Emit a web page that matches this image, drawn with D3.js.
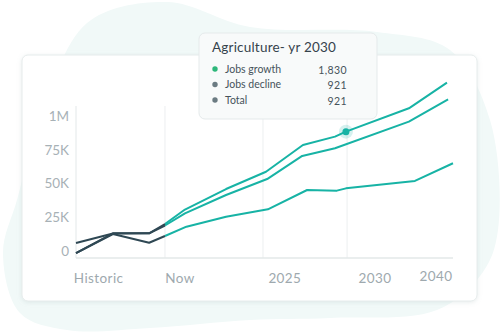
<!DOCTYPE html>
<html><head><meta charset="utf-8">
<script src="https://cdn.jsdelivr.net/npm/d3@7"></script>
<style>html,body{margin:0;padding:0;background:#fff;}svg{display:block;font-family:Lato,"Open Sans",sans-serif;}</style>
</head><body>
<svg id="c" width="500" height="335"></svg>
<script>
// ---- data ----
const seriesNames = ["Jobs growth", "Jobs decline", "Total"];
// [position along the timeline, value in thousands]
const growthPts = [[0,-1.5],[9.8,13.1],[19.4,13.1],[23.6,20],[28.9,30.7],[39.8,45.9],[50.4,58.7],[60.2,78.5],[68.7,84.7],[71.6,88.4],[88.3,105.7],[98.4,124.7]];
const declinePts = [[0,5.9],[9.8,13],[19.4,13.1],[23.6,18.9],[28.9,27.9],[39.8,41.5],[50.7,53.3],[60,70.4],[68.7,76.1],[88.3,95.8],[98.7,112.4]];
const totalPts = [[0,-1.5],[9.8,12.6],[19.4,6.1],[23.6,11.1],[29.3,18],[39.8,25.4],[50.9,30.9],[61.3,45.2],[69.2,44.7],[71.6,46.4],[89.9,51.9],[100,65]];
const nowX = 23.6;
const gridX = [23.6, 49.6, 71.9];
const xTickVals = [6, 27.6, 55.4, 79.3, 95.5];
const xTickLabels = ["Historic", "Now", "2025", "2030", "2040"];
const yTickVals = [0, 25, 50, 75, 100];
const yTickLabels = ["0", "25K", "50K", "75K", "1M"];
const tipTitle = "Agriculture- yr 2030";
const tipValues = ["1,830", "921", "921"];
const tipPoint = [71.6, 88.4];

// ---- layout ----
const svg = d3.select("#c");
const x = d3.scaleLinear().domain([0, 100]).range([76, 453]);
const y = d3.scaleLinear().domain([0, 100]).range([251, 116]);

const defs = svg.append("defs");
const f = defs.append("filter").attr("id","sh").attr("x","-10%").attr("y","-10%").attr("width","120%").attr("height","130%");
f.append("feDropShadow").attr("dx",0).attr("dy",1).attr("stdDeviation",2).attr("flood-color","#9fb3b3").attr("flood-opacity",0.25);

// background blob
const blobPts = [[40,120],[87,23],[167,2],[250,27],[377,32],[450,50],[490,120],[498,230],[483,272],[437,310],[330,318],[250,320],[150,328],[67,330],[20,313],[3,253],[17,200]];
svg.append("path").attr("d", d3.line().curve(d3.curveCatmullRomClosed)(blobPts)).attr("fill","#f1f9f8");

// card
svg.append("rect").attr("x",22).attr("y",55).attr("width",455).attr("height",246).attr("rx",6)
  .attr("fill","#fff").attr("stroke","#e6ecec").attr("filter","url(#sh)");

// grid
svg.append("g").selectAll("line").data(gridX).join("line")
  .attr("x1",d=>x(d)).attr("x2",d=>x(d)).attr("y1",106).attr("y2",258)
  .attr("stroke","#eceff0").attr("stroke-width",1);
// y axis line
svg.append("line").attr("x1",x(0)).attr("x2",x(0)).attr("y1",106).attr("y2",258).attr("stroke","#e3e8e9").attr("stroke-width",1);
// x axis line
svg.append("line").attr("x1",x(0)).attr("x2",x(100)).attr("y1",258).attr("y2",258).attr("stroke","#e3e8e9").attr("stroke-width",1.5);

// y labels
svg.append("g").selectAll("text").data(yTickVals).join("text")
  .attr("x",69).attr("y",d=>y(d)).attr("dy","0.36em").attr("text-anchor","end")
  .attr("font-size",13.5).attr("fill","#a7b1b6").text((d,i)=>yTickLabels[i]);
// x labels
svg.append("g").selectAll("text").data(xTickVals).join("text")
  .attr("x",d=>x(d)).attr("y",(d,i)=>i===4?281:283).attr("text-anchor","middle")
  .attr("font-size",13.5).attr("fill","#9ea9ae").attr("letter-spacing",0.4).text((d,i)=>xTickLabels[i]);

// lines
const line = d3.line().x(d=>x(d[0])).y(d=>y(d[1]));
const allSeries = [totalPts, declinePts, growthPts];
allSeries.forEach(pts=>{
  const hist = pts.filter(p=>p[0]<=nowX);
  const fut = pts.filter(p=>p[0]>=nowX);
  svg.append("path").attr("d",line(fut)).attr("fill","none").attr("stroke","#17b3a5").attr("stroke-width",2).attr("stroke-linejoin","round");
  svg.append("path").attr("d",line(hist)).attr("fill","none").attr("stroke","#2f4854").attr("stroke-width",2).attr("stroke-linejoin","round");
});

// hovered point
svg.append("circle").attr("cx",x(tipPoint[0])).attr("cy",y(tipPoint[1])).attr("r",7).attr("fill","#17b3a5").attr("opacity",0.18);
svg.append("circle").attr("cx",x(tipPoint[0])).attr("cy",y(tipPoint[1])).attr("r",3.5).attr("fill","#17b3a5");

// tooltip
const tip = svg.append("g");
tip.append("rect").attr("x",199).attr("y",33).attr("width",178).attr("height",86).attr("rx",6)
  .attr("fill","#f8fafa").attr("stroke","#e5eaeb");
tip.append("text").attr("x",212).attr("y",52).attr("font-size",13.5).attr("fill","#35434c").attr("letter-spacing",0.2).text(tipTitle);
const dotColors = ["#2db77a","#6b7b82","#6b7b82"];
seriesNames.forEach((n,i)=>{
  const cy = 69 + i*15.5;
  tip.append("circle").attr("cx",215).attr("cy",cy).attr("r",2.7).attr("fill",dotColors[i]);
  tip.append("text").attr("x",225).attr("y",cy).attr("dy","0.35em").attr("font-size",10.5).attr("fill","#46535b").text(n);
  tip.append("text").attr("x",347).attr("y",cy+1).attr("dy","0.35em").attr("text-anchor","end").attr("font-size",10.5).attr("fill","#46535b").attr("letter-spacing",0.4).text(tipValues[i]);
});
</script>
</body></html>
